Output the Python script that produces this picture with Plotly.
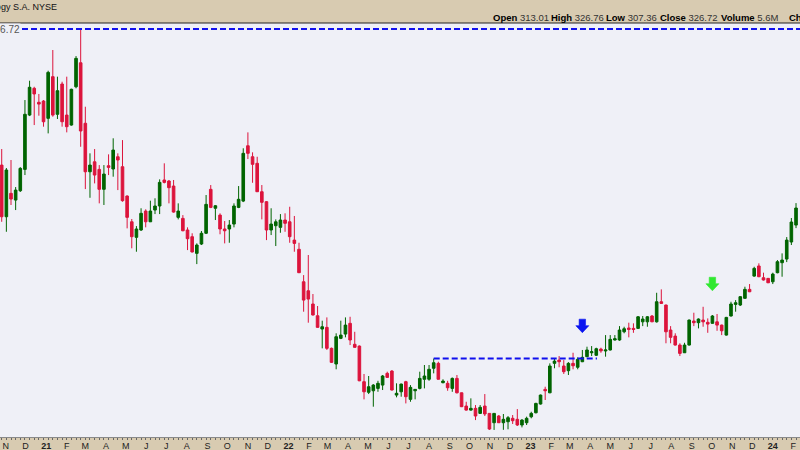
import pandas as pd
import plotly.graph_objects as go

# ---------------- data (weekly OHLC) ----------------
first_week = "2020-10-26"
opens = [279.0,238.1,256.6,251.3,258.7,275.6,318.6,339.8,328.7,329.7,316.0,349.0,319.2,343.2,318.6,310.7,341.0,360.0,312.1,273.7,
         281.6,275.6,259.8,278.5,275.9,285.6,277.7,254.5,234.1,221.8,227.6,242.6,234.1,243.4,246.6,267.2,266.4,262.4,237.6,236.8,
         227.6,222.3,209.1,216.5,225.0,259.8,244.8,239.4,228.4,228.4,232.3,245.5,250.5,294.3,285.6,280.4,257.9,250.0,227.6,231.0,
         229.7,235.5,234.1,219.6,212.3,186.6,179.5,169.0,159.7,149.2,150.5,133.9,121.5,141.8,145.2,153.7,137.1,135.7,107.5,99.1,
         100.3,102.2,104.8,114.1,115.9,96.9,99.5,107.5,93.5,100.3,102.2,109.4,109.4,118.1,122.0,106.7,106.2,102.2,110.1,98.7,
         88.2,85.0,86.4,82.4,88.2,82.4,75.0,80.3,75.0,75.8,78.5,77.7,73.2,75.0,79.7,82.9,89.8,101.4,98.7,122.0,
         124.6,119.9,116.2,122.0,118.9,123.3,127.3,130.4,128.4,133.3,131.8,132.6,140.5,140.5,147.0,150.0,149.7,149.7,154.9,154.9,
         159.5,154.9,170.8,168.2,148.4,143.6,136.5,130.4,136.5,155.5,154.2,156.3,154.5,153.7,154.9,152.3,144.4,159.5,168.7,168.2,
         173.5,180.6,191.1,199.1,189.8,189.3,186.6,193.8,201.7,204.6,218.1,231.5]
highs = [291.7,276.7,283.0,261.6,277.4,330.5,345.8,341.0,335.3,330.5,353.7,370.1,349.0,345.0,349.0,339.5,365.3,387.4,325.2,288.3,
         291.7,279.0,279.0,287.5,300.2,288.3,298.8,255.0,236.3,230.7,244.8,244.0,250.8,252.7,267.7,280.4,267.2,267.2,248.7,239.4,
         229.7,225.0,217.0,226.8,255.3,263.2,247.4,240.8,234.7,235.5,248.7,262.4,292.3,304.9,289.1,285.6,263.2,250.5,244.8,236.0,
         240.2,240.8,246.0,238.7,217.5,191.9,207.8,176.9,167.4,155.8,158.4,134.5,145.8,155.8,158.4,158.9,147.0,136.2,113.6,112.0,
         105.6,108.2,112.8,115.4,116.7,106.2,106.0,108.2,104.8,101.6,115.4,120.7,120.7,125.8,123.3,109.4,108.2,110.8,112.8,98.9,
         91.6,94.3,89.0,89.0,97.7,82.7,82.7,81.1,81.9,80.3,81.1,85.8,77.9,79.8,83.7,90.8,97.3,103.5,122.0,126.0,
         127.8,124.6,123.0,130.4,126.8,132.6,135.2,135.7,134.4,134.4,144.4,144.4,144.4,151.5,151.0,154.2,153.7,159.5,159.5,159.5,
         160.3,177.9,180.6,168.5,151.5,145.8,137.9,138.3,156.7,162.1,157.6,166.8,157.6,160.3,161.1,152.7,158.8,170.8,172.1,175.3,
         182.7,184.8,198.5,201.2,193.8,189.6,193.8,203.8,209.1,222.0,237.1,248.9]
lows = [234.1,226.2,247.4,243.4,257.7,271.1,317.8,310.7,318.1,309.4,304.1,317.3,315.5,309.4,304.9,310.2,339.8,293.5,260.0,253.1,
        264.5,248.7,247.4,271.1,269.8,259.2,250.0,228.9,213.1,210.4,226.8,229.7,233.9,240.2,240.2,264.5,248.7,241.3,236.0,226.6,
        211.7,209.8,200.6,215.7,224.4,244.9,235.5,224.2,217.0,217.5,229.7,244.9,249.7,283.8,265.0,257.7,236.0,219.6,223.6,214.9,
        225.4,226.2,217.5,210.4,193.5,162.9,154.2,159.9,150.3,133.9,132.6,122.3,117.3,141.2,142.6,136.5,134.5,107.9,93.5,97.7,
        87.7,99.5,100.9,110.5,100.5,95.1,95.6,90.3,91.6,93.5,101.4,102.2,108.2,114.1,109.2,106.2,100.3,99.5,98.2,87.4,
        84.6,84.5,77.1,82.3,80.3,69.3,69.3,74.8,69.4,69.8,74.0,72.4,71.3,73.2,78.5,82.4,89.4,93.0,98.4,118.1,
        118.9,113.6,112.8,117.3,117.3,123.0,127.0,127.8,127.8,130.4,127.3,132.2,140.1,139.9,145.8,142.6,146.2,149.6,151.5,151.0,
        154.7,154.3,169.0,137.9,137.9,136.1,127.8,130.2,136.1,151.5,149.7,151.0,146.2,153.5,147.8,144.4,144.0,159.1,162.9,167.4,
        173.3,178.4,190.6,190.3,187.6,185.6,184.8,193.3,190.6,202.2,215.7,229.1]
closes = [238.1,275.1,252.1,259.2,276.4,319.2,340.6,335.3,327.3,313.3,352.4,318.6,337.9,313.3,309.4,339.0,363.5,306.0,273.7,279.0,
          271.1,259.8,271.9,277.2,290.9,283.0,250.8,237.6,222.3,228.4,240.8,234.1,242.6,246.6,265.3,265.3,261.1,241.8,242.6,227.0,
          220.7,210.2,215.7,225.0,247.9,245.5,246.8,228.4,227.0,231.5,246.6,251.9,288.3,288.3,279.6,257.9,249.5,227.6,232.3,234.1,
          235.5,232.9,222.3,217.0,193.8,172.1,172.9,160.3,150.5,151.0,133.9,122.8,143.1,144.4,152.3,140.5,134.7,108.2,99.5,103.5,
          104.8,106.2,112.0,110.9,100.9,98.3,105.6,95.6,103.0,101.4,110.1,112.0,117.3,122.5,109.4,108.0,102.7,110.1,98.7,87.7,
          85.0,86.4,80.3,87.2,81.9,70.0,82.4,75.0,77.7,79.0,76.6,73.2,77.1,78.5,82.4,90.3,96.9,100.3,119.9,123.8,
          123.3,115.4,122.0,120.1,125.2,126.8,132.6,131.2,133.6,131.9,132.6,141.0,141.5,148.4,149.4,148.9,148.9,158.9,157.1,158.9,
          154.9,170.8,169.5,147.0,142.6,136.5,129.9,136.5,156.3,154.2,157.1,154.9,153.1,159.5,152.3,147.8,158.4,169.0,170.0,174.8,
          180.6,178.7,197.2,190.6,188.0,185.8,192.7,202.5,203.8,219.6,233.9,245.0]
dates = pd.date_range(first_week, periods=len(closes), freq="7D")

# month tick labels
tick_dates = pd.date_range("2020-11-01", "2024-02-01", freq="MS")
tick_text = [("<b>%02d</b>" % (d.year % 100)) if d.month == 1 else "JFMAMJJASOND"[d.month - 1] for d in tick_dates]

# annotations data
top_line_level = 386.72
top_line_label = "386.72"
resistance_level = 125.8
resistance_start = "2022-08-08"
resistance_end = "2023-04-11"
blue_arrow_date, blue_arrow_price = "2023-03-20", 146.3
green_arrow_date, green_arrow_price = "2023-10-02", 179.5
header_title = "Spotify Technology S.A. NYSE"
header_fields = [("Open", "313.01"), ("High", "326.76"), ("Low", "307.36"),
                 ("Close", "326.72"), ("Volume", "5.6M"), ("Chg", "")]
header_field_x = [490.7, 549.0, 604.0, 658.3, 719.0, 787.3]

# ---------------- styles ----------------
W, H = 800, 450
T, B = 23, 13
PLOT_H = H - T - B
GREEN = "#006400"
RED = "#dc143c"
PLOT_BG = "#eff0f7"
TAN = "#d8cbb1"
FONT = "Liberation Sans"

fig = go.Figure()
fig.add_trace(go.Candlestick(
    x=dates, open=opens, high=highs, low=lows, close=closes,
    increasing=dict(line=dict(color=GREEN, width=1), fillcolor=GREEN),
    decreasing=dict(line=dict(color=RED, width=1), fillcolor=RED),
    whiskerwidth=0, showlegend=False, hoverinfo="skip"))

shapes = [
    dict(type="line", xref="paper", yref="y", x0=22 / W, x1=1, y0=top_line_level, y1=top_line_level,
         line=dict(color="#1010ee", width=2, dash="6px,3px")),
    dict(type="line", xref="x", yref="y", x0=resistance_start, x1=resistance_end,
         y0=resistance_level, y1=resistance_level, line=dict(color="#1010ee", width=2, dash="6px,3px")),
    dict(type="line", xref="paper", yref="paper", x0=0, x1=1, y0=1, y1=1,
         line=dict(color="#222222", width=1.2)),
]
arrow_path = "M0,0 L-6.5,7 L-3.2,7 L-3.2,13.5 L3.2,13.5 L3.2,7 L6.5,7 Z"
for d, p, col in [(blue_arrow_date, blue_arrow_price, "#0a14f0"), (green_arrow_date, green_arrow_price, "#30e830")]:
    shapes.append(dict(type="path", xref="x", yref="y", xsizemode="pixel", ysizemode="pixel",
                       xanchor=d, yanchor=p, path=arrow_path, fillcolor=col,
                       line=dict(color=col, width=0.6)))

annotations = [
    dict(xref="paper", yref="y", x=20.5 / W, y=top_line_level, xanchor="right", yanchor="middle",
         text=top_line_label, showarrow=False, font=dict(family=FONT, size=10, color="#555555"),
         bgcolor=PLOT_BG, borderpad=0),
    dict(xref="paper", yref="paper", x=59 / W, y=1 + 16 / PLOT_H, xanchor="right", yanchor="middle",
         text=header_title, showarrow=False, font=dict(family=FONT, size=9, color="#111111")),
]
for (lab, val), px in zip(header_fields, header_field_x):
    txt = "<b>%s</b>" % lab + (" <span style='color:#333'>%s</span>" % val if val else "")
    annotations.append(dict(xref="paper", yref="paper", x=px / W, y=1 + 5.7 / PLOT_H, xanchor="left",
                            yanchor="middle", text=txt, showarrow=False,
                            font=dict(family=FONT, size=9.5, color="#000000")))

fig.update_layout(
    width=W, height=H, margin=dict(l=0, r=0, t=T, b=B, pad=0),
    paper_bgcolor=TAN, plot_bgcolor=PLOT_BG, boxgap=0.2,
    shapes=shapes, annotations=annotations, showlegend=False,
    font=dict(family=FONT, size=9, color="#222222"),
    xaxis=dict(type="date", range=["2020-10-23 10:00", "2024-02-11"], rangeslider=dict(visible=False),
               tickmode="array", tickvals=tick_dates, ticktext=tick_text, ticks="", showgrid=False,
               zeroline=False, showline=True, linecolor="#8a8a8a", linewidth=1,
               tickfont=dict(family=FONT, size=9, color="#222222"),
               minor=dict(tick0=first_week, dtick=7 * 86400000, ticks="outside", ticklen=2,
                          tickcolor="#666666", showgrid=False)),
    yaxis=dict(range=[63.7, 391.5], visible=False, showgrid=False, zeroline=False, fixedrange=True),
)

fig.write_html("out.html", config={"displayModeBar": False},
               post_script="document.body.style.margin='0';document.body.style.padding='0';"
                           "document.body.style.overflow='hidden';")
